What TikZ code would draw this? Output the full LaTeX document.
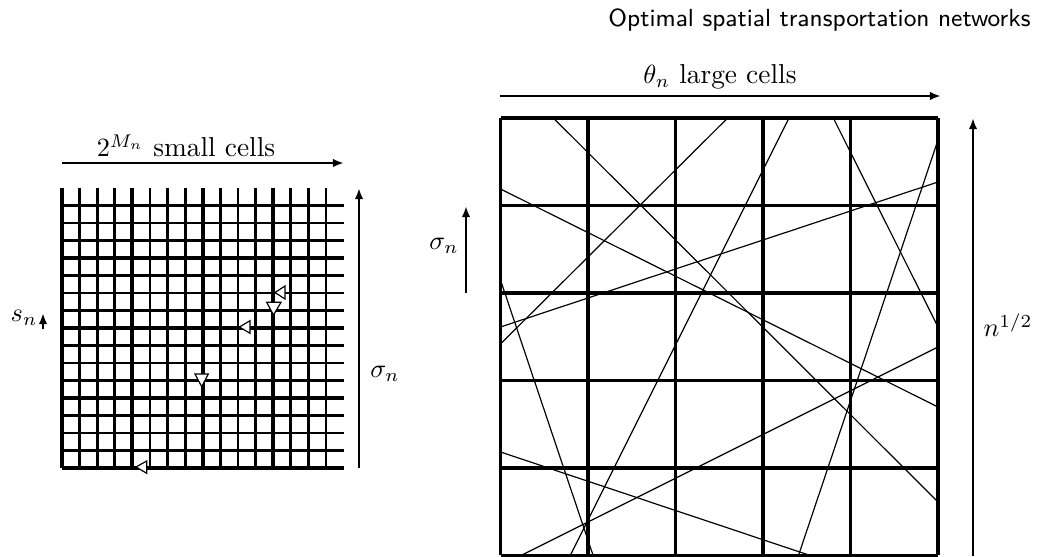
\documentclass[tikz,border=0pt]{standalone}
\usetikzlibrary{arrows.meta}
\begin{document}
\begin{tikzpicture}[x=0.38pt,y=-0.38pt,
  gridthin/.style={line width=1.12pt},
  gridthick/.style={line width=1.55pt},
  bigthin/.style={line width=1.2pt},
  bigthick/.style={line width=1.7pt},
  dimarrow/.style={line width=0.95pt,-{Latex[length=4.2pt,width=3.2pt]}},
  road/.style={line width=0.45pt},
  tri/.style={draw,fill=white,line width=0.45pt,line join=miter},
  lbl/.style={inner sep=0pt,font=\fontsize{10.4}{12}\selectfont},
  header/.style={inner sep=0pt,font=\fontsize{9.4}{11}\selectfont\sffamily}]
\useasboundingbox (0,0) rectangle (1040,557);

% header
\node[header,anchor=base east] (head) at (1031,27) {Optimal spatial transportation networks};

% ---------------- left grid ----------------
\foreach \i in {0,...,15}{
  \draw[gridthin] ({62+17.6*\i},188) -- ({62+17.6*\i},468);
  \draw[gridthin] (62,{468-17.5*\i}) -- (343.6,{468-17.5*\i});
}
\foreach \i in {0,4,8,12}{
  \draw[gridthick] ({62+17.6*\i},188) -- ({62+17.6*\i},468);
  \draw[gridthick] (62,{468-17.5*\i}) -- (343.6,{468-17.5*\i});
}
% small open triangles
\draw[tri] (275,292.5) -- (285,286) -- (285,299) -- cycle;
\draw[tri] (239.5,327) -- (250,320.7) -- (250,333.3) -- cycle;
\draw[tri] (266.7,302.3) -- (281,302.3) -- (273.5,315) -- cycle;
\draw[tri] (195,374) -- (208.3,374) -- (201.7,386.7) -- cycle;
\draw[tri] (136,467) -- (146.7,461) -- (146.7,473.3) -- cycle;

% left labels and arrows
\coordinate (lt1) at (62,163);
\coordinate (lt2) at (344,163);
\draw[dimarrow] (lt1) -- (lt2);
\node[lbl] (smallcells) at (186,146) {$2^{M_n}$ small cells};

\coordinate (sn1) at (43,329);
\coordinate (sn2) at (43,313);
\draw[dimarrow] (sn1) -- (sn2);
\node[lbl] (snlab) at (24,318) {$s_n$};

\coordinate (sl1) at (359,468);
\coordinate (sl2) at (359,188);
\draw[dimarrow] (sl1) -- (sl2);
\node[lbl] (sigl) at (385,374) {$\sigma_n$};

% ---------------- right grid ----------------
% random lines
\draw[road] (553.3,118) -- (938,502);
\draw[road] (727.7,118) -- (500.5,344);
\draw[road] (500.5,189) -- (938,407);
\draw[road] (500.5,327) -- (938,182);
\draw[road] (789,118) -- (570,556);
\draw[road] (833.3,118) -- (938,327);
\draw[road] (938,140) -- (798.3,556);
\draw[road] (500.5,280) -- (593.3,556);
\draw[road] (500.5,452) -- (811.7,556);
\draw[road] (520,556) -- (938,347);

\foreach \k in {0,...,5}{
  \draw[bigthin] ({500.5+87.5*\k},118) -- ({500.5+87.5*\k},555.5);
  \draw[bigthin] (500.5,{118+87.5*\k}) -- (938,{118+87.5*\k});
}
\draw[bigthick] (500.5,468) -- (938,468);

% right labels and arrows
\coordinate (rt1) at (500,96);
\coordinate (rt2) at (941,96);
\draw[dimarrow] (rt1) -- (rt2);
\node[lbl] (largecells) at (720,77) {$\theta_n$ large cells};

\coordinate (sr1) at (466,293);
\coordinate (sr2) at (466,206);
\draw[dimarrow] (sr1) -- (sr2);
\node[lbl] (sigr) at (444,246) {$\sigma_n$};

\coordinate (nr1) at (973,556);
\coordinate (nr2) at (973,118);
\draw[dimarrow] (nr1) -- (nr2);
\node[lbl] (nhalf) at (1008,325) {$n^{1/2}$};
\end{tikzpicture}
\end{document}
